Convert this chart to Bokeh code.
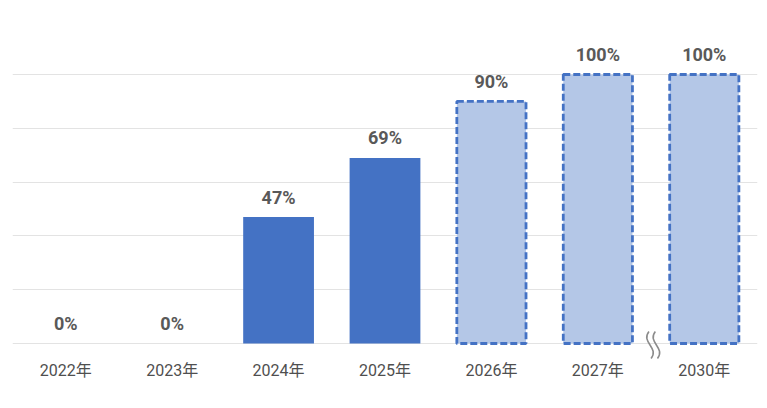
from bokeh.plotting import figure
from bokeh.core.properties import value
from bokeh.embed import file_html
from bokeh.resources import INLINE

years = ["2022年", "2023年", "2024年", "2025年", "2026年", "2027年", "2030年"]
rates = [0, 0, 47, 69, 90, 100, 100]
is_projection = [False, False, False, False, True, True, True]
grid_ticks = [0, 20, 40, 60, 80, 100]

xs = list(range(len(years)))
act_x = [x for x, p in zip(xs, is_projection) if not p]
act_y = [r for r, p in zip(rates, is_projection) if not p]
prj_x = [x for x, p in zip(xs, is_projection) if p]
prj_y = [r for r, p in zip(rates, is_projection) if p]

TXT = "#595959"
FONT = value("Roboto, Noto Sans CJK JP")

p = figure(width=765, height=405, x_range=(-0.5, 6.5), y_range=(-23.05, 127.51),
           x_axis_location=None, y_axis_location=None,
           min_border_left=12, min_border_right=8, min_border_top=0, min_border_bottom=0,
           outline_line_color=None, toolbar_location=None, output_backend="svg")
p.grid.grid_line_color = None

p.hspan(y=grid_ticks, line_color="#E3E3E3", line_width=1)

p.vbar(x=act_x, top=act_y, bottom=0, width=0.665, fill_color="#4472C4", line_color=None)
p.vbar(x=prj_x, top=prj_y, bottom=0, width=0.65, fill_color="#B4C7E7",
       line_color="#4472C4", line_width=2.8, line_dash="7 3")

p.text(x=xs, y=rates, text=[f"{r}%" for r in rates], y_offset=-20,
       text_align="center", text_baseline="middle", text_font=FONT,
       text_font_size="18px", text_font_style="bold", text_color=TXT)

p.text(x=xs, y=[0] * len(xs), text=years, y_offset=27,
       text_align="center", text_baseline="middle", text_font=FONT,
       text_font_size="16px", text_color="#4F4F4F")

# axis break marker between 2027 and 2030
brk = 5.52
for dx in (-0.03, 0.03):
    p.bezier(x0=[brk + dx - 0.01], y0=[4.5], x1=[brk + dx + 0.01], y1=[-5.6],
             cx0=[brk + dx - 0.09], cy0=[0.5], cx1=[brk + dx + 0.09], cy1=[-1.6],
             line_color="#8C8C8C", line_width=1.6)

open("out.html", "w").write(file_html(p, INLINE))
